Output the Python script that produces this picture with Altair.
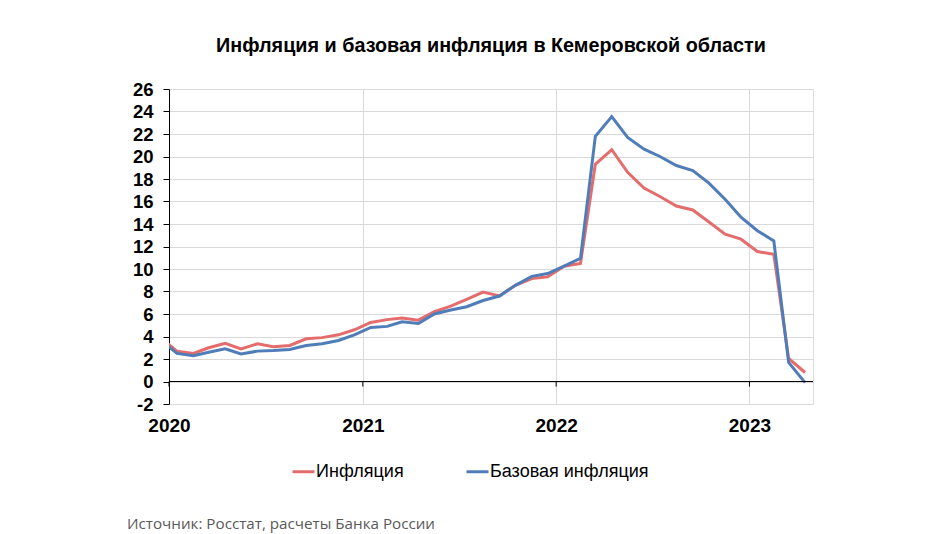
import altair as alt
import pandas as pd

title_text = "Инфляция и базовая инфляция в Кемеровской области"
source_text = "Источник: Росстат, расчеты Банка России"
series_names = ["Инфляция", "Базовая инфляция"]
series_colors = ["#E46C6C", "#4F7DB9"]

# months Dec 2019 .. Apr 2023 (points drawn at mid-month)
months = [d.strftime("%Y-%m-16") for d in pd.date_range("2019-12-01", periods=41, freq="MS")]

inflation = [3.9,
             2.7, 2.5, 3.0, 3.4, 2.9, 3.35, 3.1, 3.2, 3.8, 3.9, 4.15, 4.6,
             5.25, 5.5, 5.65, 5.45, 6.2, 6.7, 7.3, 7.95, 7.6, 8.55, 9.15, 9.3,
             10.25, 10.5, 19.3, 20.6, 18.6, 17.2, 16.45, 15.6, 15.25, 14.2, 13.1, 12.65,
             11.55, 11.3, 2.05, 0.8]
core = [3.7,
        2.5, 2.3, 2.6, 2.9, 2.45, 2.7, 2.75, 2.85, 3.2, 3.35, 3.65, 4.15,
        4.8, 4.9, 5.3, 5.15, 6.0, 6.35, 6.65, 7.2, 7.6, 8.55, 9.35, 9.6,
        10.25, 10.95, 21.8, 23.55, 21.7, 20.65, 20.0, 19.2, 18.75, 17.65, 16.2, 14.6,
        13.4, 12.5, 1.7, -0.1]

year_ticks = ["2020-01-01", "2021-01-01", "2022-01-01", "2023-01-01"]
y_ticks = list(range(-2, 27, 2))

df = pd.DataFrame({
    "date": months * 2,
    "value": inflation + core,
    "series": [series_names[0]] * len(months) + [series_names[1]] * len(months),
})

FONT = "Liberation Sans"

x_scale = alt.Scale(type="utc",
                    domain=[alt.DateTime(year=2020, month=1, date=1, utc=True),
                            alt.DateTime(year=2023, month=5, date=1, utc=True)])
y_scale = alt.Scale(domain=[-2, 26], nice=False, zero=False)

x_axis = alt.Axis(values=[alt.DateTime(year=int(y[:4]), month=1, date=1, utc=True) for y in year_ticks],
                  labelExpr="utcFormat(datum.value, '%Y')",
                  title=None, domain=False, ticks=False, grid=True,
                  gridColor="#d9d9d9", gridWidth=1, labelOverlap=False,
                  labelFont=FONT, labelFontWeight="bold", labelFontSize=19,
                  labelColor="black", labelPadding=12, labelAlign="center")
y_axis = alt.Axis(values=y_ticks, title=None, domainColor="black", domainWidth=1,
                  tickColor="black", tickSize=6, grid=True, gridColor="#d9d9d9",
                  labelOverlap=False, labelExpr="'' + datum.value",
                  labelFont=FONT, labelFontWeight="bold", labelFontSize=18.5,
                  labelColor="black", labelPadding=10)

lines = alt.Chart(df).mark_line(strokeWidth=3, clip=True).encode(
    x=alt.X("date:T", scale=x_scale, axis=x_axis),
    y=alt.Y("value:Q", scale=y_scale, axis=y_axis),
    color=alt.Color("series:N", sort=series_names,
                    scale=alt.Scale(domain=series_names, range=series_colors),
                    legend=alt.Legend(title=None, orient="none", legendX=122, legendY=370,
                                      direction="horizontal", symbolType="stroke",
                                      symbolStrokeWidth=3, symbolSize=484, labelLimit=400,
                                      labelFont=FONT, labelFontSize=18, labelColor="black",
                                      columnPadding=56, labelOffset=0)),
    detail="series:N",
)

zero = alt.Chart(pd.DataFrame({"value": [0]})).mark_rule(color="black", strokeWidth=1).encode(
    y=alt.Y("value:Q", scale=y_scale, axis=y_axis))

tick_df = pd.DataFrame({"date": year_ticks, "value": [0] * len(year_ticks),
                        "low": [-0.45] * len(year_ticks)})
yticks = alt.Chart(tick_df).mark_rule(color="black", strokeWidth=1).encode(
    x=alt.X("date:T", scale=x_scale, axis=x_axis),
    y=alt.Y("value:Q", scale=y_scale, axis=y_axis),
    y2="low:Q")

src = alt.Chart(pd.DataFrame({"t": [source_text]})).mark_text(
    align="left", baseline="alphabetic", font="Open Sans", fontSize=15.2, color="#595959"
).encode(x=alt.value(-42), y=alt.value(440), text="t:N")

chart = alt.layer(lines, zero, yticks, src).properties(
    width=644, height=315,
    title=alt.TitleParams(title_text, font=FONT, fontSize=19.8, fontWeight="bold",
                          color="black", anchor="middle", offset=24),
    autosize=alt.AutoSizeParams(type="none"),
    padding={"left": 169, "top": 89, "right": 137, "bottom": 130},
).configure_view(strokeWidth=0).configure(background="white")

chart.save("out.html", embed_options={"renderer": "svg", "actions": False})
